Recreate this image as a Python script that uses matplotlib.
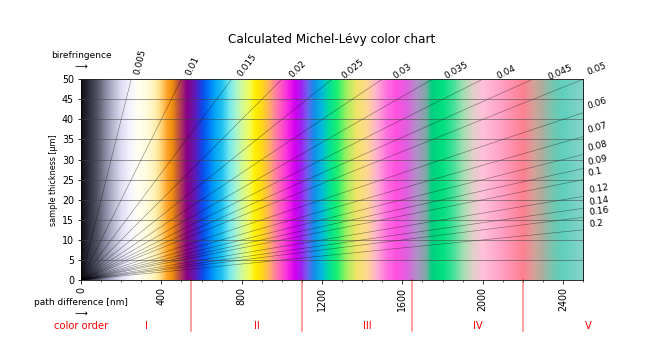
import numpy as np
import matplotlib
matplotlib.use('Agg')
import matplotlib.pyplot as plt
import matplotlib.transforms as mtransforms
from matplotlib.colors import LinearSegmentedColormap

# interference colours (path difference in nm -> colour)
stop_nm = [0, 40, 80, 120, 160, 200, 240, 280, 330, 370, 400, 430, 455, 475, 500,
           525, 550, 575, 600, 630, 660, 700, 735, 770, 800, 835, 865, 900, 935,
           965, 1000, 1035, 1065, 1095, 1125, 1160, 1195, 1235, 1275, 1320, 1370,
           1420, 1470, 1520, 1570, 1620, 1670, 1715, 1745, 1800, 1850, 1900, 1950,
           2000, 2070, 2140, 2200, 2250, 2300, 2350, 2400, 2500]
stop_colors = ['#101018', '#303040', '#555568', '#8a8aa4', '#b8b8d0', '#e0def2',
               '#f6f2ff', '#fffff4', '#fffad8', '#fff0b0', '#ffd070', '#ffa020',
               '#ea8a10', '#c86030', '#a83060', '#880088', '#7010a0', '#5020c8',
               '#1048e8', '#0070f8', '#00a0f8', '#20c0f0', '#70e8f0', '#a8f4d0',
               '#d0fa98', '#f0fc60', '#fff000', '#ffd818', '#ffb060', '#ff80a0',
               '#ff50c8', '#f020e8', '#d000f0', '#a020f0', '#7060f0', '#1090e8',
               '#00b8e0', '#00e098', '#20f070', '#a0f060', '#f0e468', '#ffd890',
               '#ffb0d0', '#ff70e0', '#ff50e0', '#e060e0', '#b090c8', '#80a8a8',
               '#00d080', '#00e080', '#40e098', '#a0e0b0', '#e0d0c8', '#ffc0d8',
               '#ffa8cc', '#ff90b0', '#ff8090', '#d8a098', '#a8b0a0', '#70c8b0',
               '#60d0c0', '#88d4c8']

biref = [0.005, 0.01, 0.015, 0.02, 0.025, 0.03, 0.035, 0.04, 0.045, 0.05,
         0.06, 0.07, 0.08, 0.09, 0.1, 0.12, 0.14, 0.16, 0.2]
biref_labels = ['0.005', '0.01', '0.015', '0.02', '0.025', '0.03', '0.035', '0.04',
                '0.045', '0.05', '0.06', '0.07', '0.08', '0.09', '0.1', '0.12',
                '0.14', '0.16', '0.2']

order_limits = [550, 1100, 1650, 2200]
order_names = ['I', 'II', 'III', 'IV', 'V']
order_pos = [325, 875, 1425, 1975, 2525]

xmax = 2500
ymax = 50

fig = plt.figure(figsize=(9, 5), dpi=72)
ax = fig.add_axes([0.125, 0.222, 0.775, 0.558])

pos = [v / xmax for v in stop_nm]
cmap = LinearSegmentedColormap.from_list('michel_levy', list(zip(pos, stop_colors)), N=1024)
grad = np.linspace(0, xmax, 1200)[None, :]
ax.imshow(grad, cmap=cmap, vmin=0, vmax=xmax, extent=[0, xmax, 0, ymax],
          aspect='auto', interpolation='bilinear', zorder=0)

ax.set_xlim(0, xmax)
ax.set_ylim(0, ymax)
ax.set_xticks(np.arange(0, 2401, 400))
ax.set_xticks(np.arange(0, 2501, 100), minor=True)
ax.set_yticks(np.arange(0, 51, 5))
ax.tick_params(axis='x', labelrotation=90, labelsize=9.5)
ax.tick_params(axis='y', labelsize=9.5)
ax.yaxis.grid(True, color='#404040', linewidth=1, alpha=0.5)
ax.set_axisbelow(False)
ax.set_ylabel('sample thickness [µm]', fontsize=8)

# birefringence lines: thickness = path difference / birefringence
xs = np.array([0, xmax])
for b, lab in zip(biref, biref_labels):
    ys = xs / (b * 1000)
    ax.plot(xs, ys, color='k', linewidth=0.6, alpha=0.45)
    p0 = ax.transData.transform((0, 0))
    p1 = ax.transData.transform((xmax, xmax / (b * 1000)))
    ang = np.degrees(np.arctan2(p1[1] - p0[1], p1[0] - p0[0]))
    if b < 0.05:
        ax.text(51.5 * b * 1000, 51.5, lab, rotation=ang, rotation_mode='anchor',
                ha='left', va='top', fontsize=9, clip_on=False)
    else:
        ax.text(2530, 2530 / (b * 1000), lab, rotation=ang, rotation_mode='anchor',
                ha='left', va='bottom', fontsize=9, clip_on=False)

# colour order separators below the axis
trans = mtransforms.blended_transform_factory(ax.transData, ax.transAxes)
for x in order_limits:
    ax.plot([x, x], [0, -0.254], transform=trans, color='red', alpha=0.5,
            linewidth=1.5, clip_on=False)
for x, name in zip(order_pos, order_names):
    ax.text(x, -11.4, name, color='red', ha='center', va='center', fontsize=10, clip_on=False)

ax.text(0, 56, 'birefringence', ha='center', va='center', fontsize=9, clip_on=False)
ax.text(0, 53.3, r'$\longrightarrow$', ha='center', va='center', fontsize=9, clip_on=False)
ax.text(0, -5.5, 'path difference [nm]', ha='center', va='center', fontsize=9, clip_on=False)
ax.text(0, -8.2, r'$\longrightarrow$', ha='center', va='center', fontsize=9, clip_on=False)
ax.text(0, -11.4, 'color order', color='red', ha='center', va='center', fontsize=10, clip_on=False)

fig.text(332 / 648, 1 - 39 / 360, 'Calculated Michel-Lévy color chart',
         ha='center', va='center', fontsize=12)

fig.savefig('out.png', dpi=72)
